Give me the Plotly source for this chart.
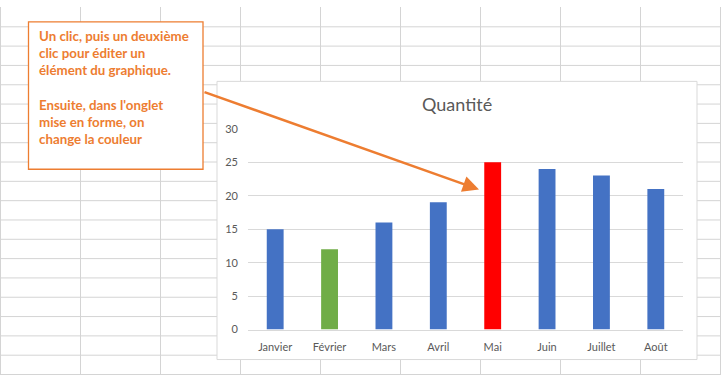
import plotly.graph_objects as go

months = ["Janvier", "Février", "Mars", "Avril", "Mai", "Juin", "Juillet", "Août"]
quantites = [15, 12, 16, 19, 25, 24, 23, 21]
bar_colors = ["#4472C4", "#70AD47", "#4472C4", "#4472C4", "#FF0000", "#4472C4", "#4472C4", "#4472C4"]
y_ticks = [0, 5, 10, 15, 20, 25, 30]
title_text = "Quantité"
note_lines = ["Un clic, puis un deuxième", "clic pour éditer un", "élément du graphique.", "",
              "Ensuite, dans l'onglet", "mise en forme, on", "change la couleur"]

W, H = 721, 381

def px(x):
    return x / W

def py(y):
    return 1 - y / H

fig = go.Figure()
fig.add_trace(go.Bar(x=months, y=quantites, marker=dict(color=bar_colors, line=dict(width=0)),
                     width=0.31, hoverinfo="x+y"))

shapes = []
grid_col = "#D4D4D4"
for gx in range(0, 721, 80):
    shapes.append(dict(type="line", xref="paper", yref="paper", x0=px(gx + 0.5), x1=px(gx + 0.5),
                       y0=0, y1=1, line=dict(color=grid_col, width=1), layer="below"))
for gy in range(20, 381, 20):
    shapes.append(dict(type="line", xref="paper", yref="paper", x0=0, x1=1,
                       y0=py(gy + 0.5), y1=py(gy + 0.5), line=dict(color=grid_col, width=1), layer="below"))
# chart area
shapes.append(dict(type="rect", xref="paper", yref="paper", x0=px(217), x1=px(697), y0=py(365), y1=py(77),
                   fillcolor="white", line=dict(color="#D9D9D9", width=1), layer="below"))
# note box
shapes.append(dict(type="rect", xref="paper", yref="paper", x0=px(28.5), x1=px(203), y0=py(168), y1=py(15.5),
                   fillcolor="white", line=dict(color="#ED7D31", width=1.3), layer="above"))

annotations = [
    dict(text=title_text, xref="paper", yref="paper", x=px(457), y=py(100), xanchor="center", yanchor="middle",
         showarrow=False, font=dict(family="Lato", size=18, color="#595959")),
    dict(text="", xref="paper", yref="paper", x=px(479), y=py(189), showarrow=True, ax=203 - 479, ay=91 - 189,
         arrowhead=2, arrowsize=1.3, arrowwidth=2.5, arrowcolor="#ED7D31"),
]
for i, line in enumerate(note_lines):
    if line:
        annotations.append(dict(text=line, xref="paper", yref="paper", x=px(37), y=py(30 + i * 17.8),
                                xanchor="left", yanchor="middle", align="left", showarrow=False,
                                font=dict(family="Lato", size=13.3, color="#ED7D31", weight="bold")))

fig.update_layout(
    width=W, height=H, autosize=False, margin=dict(l=0, r=0, t=0, b=0, pad=0),
    paper_bgcolor="white", plot_bgcolor="rgba(0,0,0,0)",
    showlegend=False, shapes=shapes, annotations=annotations,
    xaxis=dict(domain=[px(248), px(683)], showgrid=False, showline=True, linecolor="#D9D9D9", linewidth=1,
               ticks="", tickfont=dict(family="Lato", size=11, color="#595959"), ticklabelstandoff=7,
               fixedrange=True),
    yaxis=dict(domain=[py(334), py(126)], range=[0, 30], tickvals=y_ticks, showgrid=True, gridcolor="#D9D9D9",
               gridwidth=1, zeroline=False, showline=False, ticks="",
               tickfont=dict(family="Lato", size=11, color="#595959"), ticklabelstandoff=9, fixedrange=True),
    bargap=0.69,
)

fig.write_html("out.html", config={"displayModeBar": False, "responsive": False},
               post_script="document.body.style.margin='0';document.body.style.overflow='hidden';")
